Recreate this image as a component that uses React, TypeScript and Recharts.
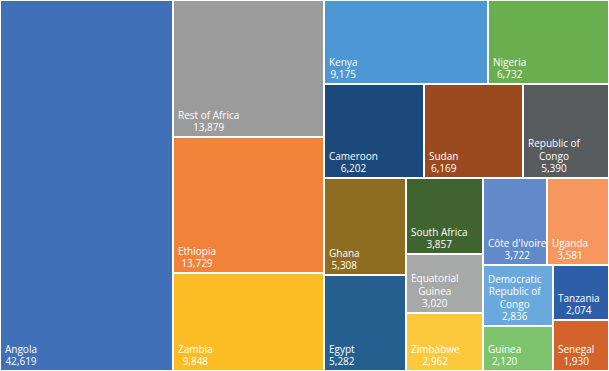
import { Treemap } from "recharts";

const countries = [
  "Angola",
  "Rest of Africa",
  "Ethiopia",
  "Zambia",
  "Kenya",
  "Nigeria",
  "Cameroon",
  "Sudan",
  "Republic of Congo",
  "Ghana",
  "Egypt",
  "South Africa",
  "Côte d'Ivoire",
  "Uganda",
  "Equatorial Guinea",
  "Zimbabwe",
  "Democratic Republic of Congo",
  "Guinea",
  "Tanzania",
  "Senegal",
];

const amounts = [
  42619, 13879, 13729, 9848, 9175, 6732, 6202, 6169, 5390, 5308, 5282, 3857,
  3722, 3581, 3020, 2962, 2836, 2120, 2074, 1930,
];

const palette = [
  "#3F70B8", "#9B9B9B", "#F1823A", "#FCBD24", "#4E97D5", "#6AAF4F",
  "#1C497C", "#9B4A20", "#575B5D", "#8E6C21", "#245F8F", "#40642F",
  "#628ACA", "#F5975F", "#A7A8A8", "#FDC93C", "#6AA9DE", "#7EC46C",
  "#2F5EA8", "#D3632A",
];

// grouping so the squarify pass splits the area the same way Excel did
type Group = string | Group[];
const grouping: Group[] = [
  "Angola",
  [
    ["Rest of Africa", "Ethiopia", "Zambia"],
    [
      ["Kenya", "Nigeria"],
      [
        ["Cameroon", "Sudan", "Republic of Congo"],
        [
          ["Ghana", "Egypt"],
          [
            ["South Africa", "Equatorial Guinea", "Zimbabwe"],
            [
              ["Côte d'Ivoire", "Uganda"],
              [
                ["Democratic Republic of Congo", "Guinea"],
                ["Tanzania", "Senegal"],
              ],
            ],
          ],
        ],
      ],
    ],
  ],
];

type Node = { name: string; size?: number; color?: string; children?: Node[] };

function build(g: Group): Node {
  if (typeof g === "string") {
    const i = countries.indexOf(g);
    return { name: g, size: amounts[i], color: palette[i] };
  }
  return { name: "", children: g.map(build) };
}

const treeData = grouping.map(build);

const FONT = "10px 'Open Sans'";
let ctx: CanvasRenderingContext2D | null = null;
function measure(s: string) {
  if (!ctx) {
    ctx = document.createElement("canvas").getContext("2d");
    if (ctx) ctx.font = FONT;
  }
  return ctx ? ctx.measureText(s).width : s.length * 5.5;
}

function wrap(text: string, maxW: number) {
  const words = text.split(" ");
  const lines: string[] = [];
  let cur = "";
  for (const w of words) {
    const next = cur ? `${cur} ${w}` : w;
    if (cur && measure(next) > maxW) {
      lines.push(cur);
      cur = w;
    } else {
      cur = next;
    }
  }
  if (cur) lines.push(cur);
  return lines;
}

function renderCell(props: any) {
  const { x, y, width, height, name, size, color, children } = props;
  if (children && children.length) return null;
  if (!width || !height) return null;
  const lines = [...wrap(String(name), width - 2), size.toLocaleString("en-US")];
  const blockW = Math.max(...lines.map(measure));
  const cx = x + 5 + blockW / 2;
  const lastY = y + height - 6;
  const lh = 12.5;
  return (
    <g>
      <rect
        x={x}
        y={y}
        width={width}
        height={height}
        fill={color}
        stroke="#fff"
        strokeWidth={2}
      />
      {lines.map((l, i) => (
        <text
          key={i}
          x={cx}
          y={lastY - (lines.length - 1 - i) * lh}
          textAnchor="middle"
          fill="#fff"
          fontSize={10}
          fontFamily="'Open Sans', sans-serif"
        >
          {l}
        </text>
      ))}
    </g>
  );
}

export default function App() {
  return (
    <div style={{ position: "absolute", left: 0, top: 0, background: "#fff" }}>
      <Treemap
        width={609}
        height={371}
        data={treeData}
        dataKey="size"
        nameKey="name"
        aspectRatio={1}
        isAnimationActive={false}
        content={renderCell}
      />
    </div>
  );
}
